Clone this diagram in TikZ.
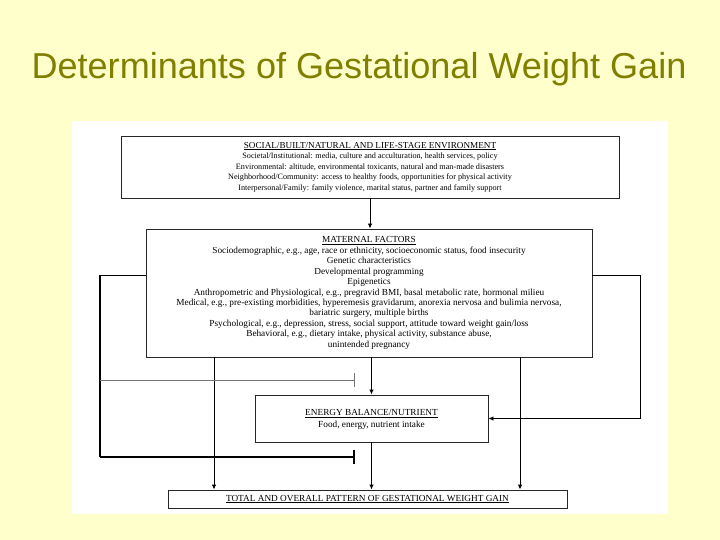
\documentclass[tikz,border=0pt]{standalone}
\usepackage{fontspec}
\setmainfont{Liberation Serif}
\newfontfamily\titlefont{Liberation Sans}
\usetikzlibrary{arrows.meta, positioning, calc}
\definecolor{slidebg}{HTML}{FFFFCC}
\definecolor{titleolive}{HTML}{7F7F00}

\begin{document}
\begin{tikzpicture}[
	x=1bp, y=-1bp,
	factor/.style={rectangle, draw=black!85, line width=0.9bp, fill=white,
		inner sep=0pt, align=center, font=\fontsize{9.3}{10.5}\selectfont},
	link/.style={->, line width=0.9bp},
	blocker/.style={-{Bar[width=14bp]}, line width=0.9bp},
	>={Latex[length=5bp, width=4.5bp]}
	]
	% slide and white panel
	\fill[slidebg] (0,0) rectangle (720,540);
	\fill[white] (72,121) rectangle (668,514);
	\node[font=\titlefont\fontsize{36.2}{40}\selectfont, text=titleolive, anchor=base] (title) at (359,79)
	{Determinants of Gestational Weight Gain};
	
	\node[factor, font=\fontsize{8.2}{10.6}\selectfont, minimum width=498bp, minimum height=62bp] (env) at (370,167) {%
		{\fontsize{9.2}{10.6}\selectfont\underline{SOCIAL/BUILT/NATURAL AND LIFE-STAGE ENVIRONMENT}}\\
		Societal/Institutional: media, culture and acculturation, health services, policy\\
		Environmental: altitude, environmental toxicants, natural and man-made disasters\\
		Neighborhood/Community: access to healthy foods, opportunities for physical activity\\
		Interpersonal/Family: family violence, marital status, partner and family support};
	
	\node[factor, minimum width=446bp, minimum height=128bp] (maternal) at (369,293) {%
		\underline{MATERNAL FACTORS}\\
		Sociodemographic, e.g., age, race or ethnicity, socioeconomic status, food insecurity\\
		Genetic characteristics\\
		Developmental programming\\
		Epigenetics\\
		Anthropometric and Physiological, e.g., pregravid BMI, basal metabolic rate, hormonal milieu\\
		Medical, e.g., pre-existing morbidities, hyperemesis gravidarum, anorexia nervosa and bulimia nervosa,\\
		bariatric surgery, multiple births\\
		Psychological, e.g., depression, stress, social support, attitude toward weight gain/loss\\
		Behavioral, e.g., dietary intake, physical activity, substance abuse,\\
		unintended pregnancy};
	
	\node[factor, font=\fontsize{9.3}{12}\selectfont, minimum width=233bp, minimum height=47bp,
		text depth=0pt] (energy) at (371.5,418.5) {%
		\underline{ENERGY BALANCE/NUTRIENT}\\
		Food, energy, nutrient intake};
	
	\node[factor, minimum width=399bp, minimum height=18bp] (total) at (367.5,499) {%
		\underline{TOTAL AND OVERALL PATTERN OF GESTATIONAL WEIGHT GAIN}};
	
	% bends and free ends
	\coordinate (lcol) at (214,0);
	\coordinate (rcol) at (520,0);
	\coordinate (lbend) at (100,275);
	\coordinate (rbend) at (640,275);
	\coordinate (bar1) at (355,380);
	\coordinate (bar2) at (355,457);
	
	\draw[link] (env.south) -- (env.south |- maternal.north);
	\draw[link] (energy.north |- maternal.south) -- (energy.north);
	\draw[link] (energy.south) -- (energy.south |- total.north);
	\draw[link] (maternal.south -| lcol) -- (total.north -| lcol);
	\draw[link] (maternal.south -| rcol) -- (total.north -| rcol);
	
	\draw[line width=0.9bp] (maternal.west |- lbend) -- (lbend);
	\draw[line width=2bp] (lbend) -- (lbend |- bar2);
	\draw[blocker, line width=1.8bp] (lbend |- bar2) -- (bar2);
	\draw[blocker, draw=black!55] (lbend |- bar1) -- (bar1);
	
	\draw[link] (maternal.east |- rbend) -- (rbend) |- (energy.east);
\end{tikzpicture}
\end{document}
